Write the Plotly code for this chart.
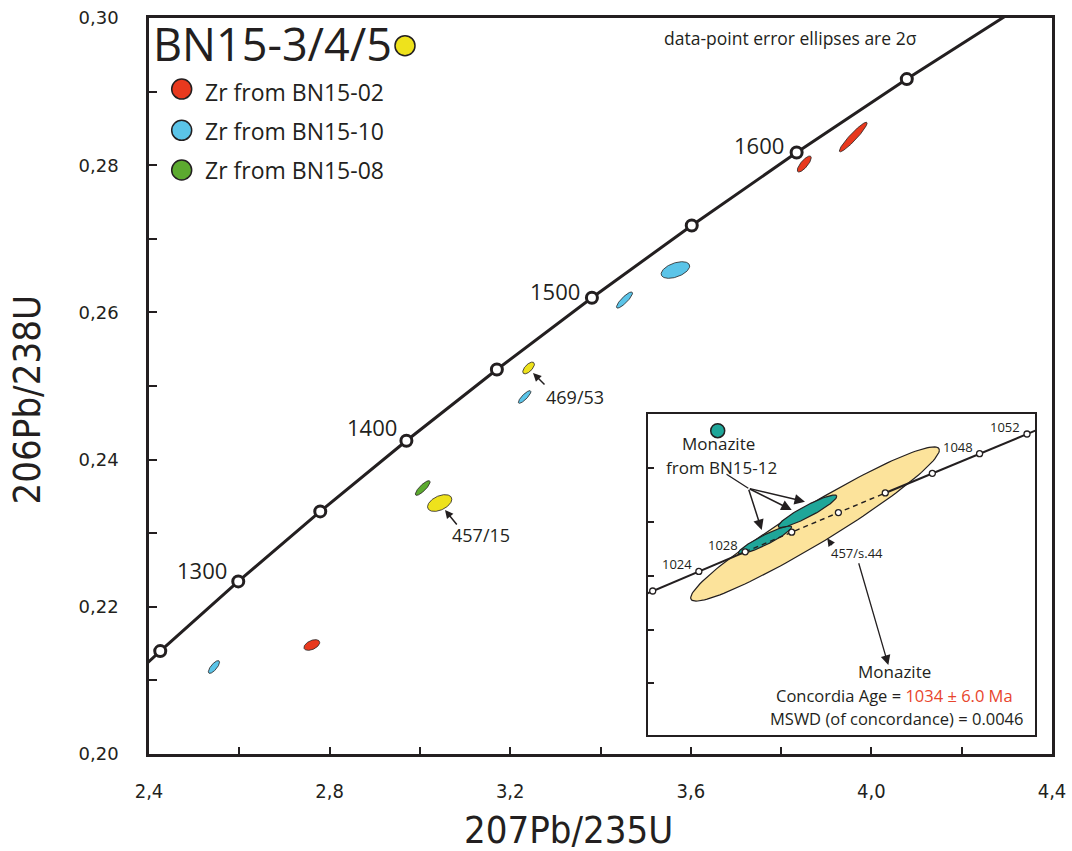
import numpy as np
import plotly.graph_objects as go

# ---------------- Concordia curve (Wetherill), ages in Ma ----------------
CONC_AGE = [1200, 1250, 1300, 1350, 1400, 1450, 1500, 1550, 1600, 1650, 1700]
CONC_X = [2.2603, 2.4249, 2.5977, 2.7793, 2.9701, 3.1705, 3.3810, 3.6021, 3.8344, 4.0784, 4.3348]
CONC_Y = [0.20460, 0.21398, 0.22345, 0.23296, 0.24256, 0.25224, 0.26199, 0.27181, 0.28172, 0.29170, 0.30175]
CONC_LABELS = [1300, 1400, 1500, 1600]

# ---------------- Zircon analyses: centre, 2-sigma half extents, rho ----------------
ZR_SAMPLE = ["BN15-10", "BN15-02", "BN15-08", "BN15-3/4/5", "BN15-10",
             "BN15-3/4/5", "BN15-10", "BN15-10", "BN15-02", "BN15-02"]
ZR_X = [2.5438, 2.7606, 3.0062, 3.0438, 3.2319, 3.2407, 3.4531, 3.5659, 3.8513, 3.9597]
ZR_Y = [0.21182, 0.21481, 0.23614, 0.23410, 0.24851, 0.25245, 0.26168, 0.26576, 0.28016, 0.28383]
ZR_SX = [0.0124, 0.0175, 0.0164, 0.0269, 0.0139, 0.0129, 0.0178, 0.0316, 0.0155, 0.0308]
ZR_SY = [0.00087, 0.00073, 0.00100, 0.00114, 0.00086, 0.00080, 0.00110, 0.00113, 0.00109, 0.00201]
ZR_RHO = [0.75, 0.46, 0.83, 0.45, 0.84, 0.64, 0.86, 0.47, 0.78, 0.94]

SAMPLE_COLOR = {
    "BN15-3/4/5": "#EEE21C",
    "BN15-02": "#E8391E",
    "BN15-10": "#5BC4E8",
    "BN15-08": "#5CAA2F",
}
LEGEND_SAMPLES = ["BN15-02", "BN15-10", "BN15-08"]

# ---------------- Inset: monazite from BN15-12 ----------------
INS_AGE = [1016, 1020, 1024, 1028, 1032, 1036, 1040, 1044, 1048, 1052, 1056]
INS_X = [1.719934, 1.730669, 1.741450, 1.752269, 1.763134, 1.774040,
         1.784989, 1.795983, 1.807019, 1.818099, 1.829220]
INS_Y = [0.170706, 0.171432, 0.172159, 0.172887, 0.173615, 0.174343,
         0.175072, 0.175802, 0.176531, 0.177262, 0.177993]
INS_LABELS = [1024, 1028, 1048, 1052]
INS_DASH_FROM, INS_DASH_TO = 1028, 1040

MZ_NAME = ["Concordia age", "spot A", "spot B"]
MZ_X = [1.76858, 1.75690, 1.76683]
MZ_Y = [0.173920, 0.173326, 0.174392]
MZ_SX = [0.02904, 0.00624, 0.00684]
MZ_SY = [0.002863, 0.00052, 0.000602]
MZ_RHO = [0.957, 0.922, 0.919]
MZ_COLOR = ["#FCE39B", "#1FA699", "#1FA699"]

# ---------------- Axis ticks ----------------
X_TICKS = [2.4, 2.6, 2.8, 3.0, 3.2, 3.4, 3.6, 3.8, 4.0, 4.2, 4.4]
X_TICK_TEXT = ["2,4", "", "2,8", "", "3,2", "", "3,6", "", "4,0", "", "4,4"]
Y_TICKS = [0.20, 0.21, 0.22, 0.23, 0.24, 0.25, 0.26, 0.27, 0.28, 0.29, 0.30]
Y_TICK_TEXT = ["0,20", "", "0,22", "", "0,24", "", "0,26", "", "0,28", "", "0,30"]
INS_Y_TICKS = [0.168, 0.170, 0.172, 0.174, 0.176]

INK = "#231F20"
TXT_FONT = "Open Sans, Noto Sans, sans-serif"
NARROW_FONT = "DejaVu Sans Condensed, sans-serif"


def ellipse(cx, cy, sx, sy, rho, n=140):
    """Outline of an error ellipse from half extents and error correlation."""
    t = np.linspace(0, 2 * np.pi, n)
    x = cx + sx * np.cos(t)
    y = cy + sy * (rho * np.cos(t) + np.sqrt(1 - rho ** 2) * np.sin(t))
    return x, y


fig = go.Figure()

# main concordia line
fig.add_trace(go.Scatter(x=CONC_X, y=CONC_Y, mode="lines",
                         line=dict(color=INK, width=3), hoverinfo="skip",
                         showlegend=False, xaxis="x", yaxis="y"))

# zircon ellipses
for cx, cy, sx, sy, r, s in zip(ZR_X, ZR_Y, ZR_SX, ZR_SY, ZR_RHO, ZR_SAMPLE):
    ex, ey = ellipse(cx, cy, sx, sy, r)
    fig.add_trace(go.Scatter(x=ex, y=ey, mode="lines", fill="toself",
                             fillcolor=SAMPLE_COLOR[s],
                             line=dict(color=INK, width=0.8),
                             hoverinfo="skip", showlegend=False,
                             xaxis="x", yaxis="y"))

# concordia age markers inside the plot range
mk = [(a, x, y) for a, x, y in zip(CONC_AGE, CONC_X, CONC_Y)
      if 2.4 <= x <= 4.4 and 0.2 <= y <= 0.3]
fig.add_trace(go.Scatter(x=[m[1] for m in mk], y=[m[2] for m in mk],
                         mode="markers",
                         marker=dict(size=11, color="white",
                                     line=dict(color=INK, width=3)),
                         hoverinfo="skip", showlegend=False,
                         xaxis="x", yaxis="y"))

# ---------------- inset traces ----------------
for cx, cy, sx, sy, r, c in zip(MZ_X, MZ_Y, MZ_SX, MZ_SY, MZ_RHO, MZ_COLOR):
    ex, ey = ellipse(cx, cy, sx, sy, r)
    fig.add_trace(go.Scatter(x=ex, y=ey, mode="lines", fill="toself",
                             fillcolor=c, line=dict(color=INK, width=1.2),
                             hoverinfo="skip", showlegend=False,
                             xaxis="x2", yaxis="y2"))

i0 = INS_AGE.index(INS_DASH_FROM)
i1 = INS_AGE.index(INS_DASH_TO)
for a, b, dash, w in [(0, i0 + 1, "solid", 2), (i0, i1 + 1, "5px,4px", 1.4),
                      (i1, len(INS_AGE), "solid", 2)]:
    fig.add_trace(go.Scatter(x=INS_X[a:b], y=INS_Y[a:b], mode="lines",
                             line=dict(color=INK, width=w, dash=dash),
                             hoverinfo="skip", showlegend=False,
                             xaxis="x2", yaxis="y2"))
fig.add_trace(go.Scatter(x=INS_X, y=INS_Y, mode="markers",
                         marker=dict(size=6, color="white",
                                     line=dict(color=INK, width=1.3)),
                         hoverinfo="skip", showlegend=False,
                         xaxis="x2", yaxis="y2"))

# ---------------- annotations ----------------
ann = []

# concordia age labels
shifts = {1300: (-9, 11), 1400: (-7, 14), 1500: (-10, 7), 1600: (-11, 8)}
for age in CONC_LABELS:
    k = CONC_AGE.index(age)
    dx, dy = shifts[age]
    ann.append(dict(x=CONC_X[k], y=CONC_Y[k], xref="x", yref="y",
                    text=str(age), showarrow=False, xanchor="right",
                    yanchor="middle", xshift=dx, yshift=dy,
                    font=dict(family=TXT_FONT, size=22, color=INK)))

for age in INS_LABELS:
    k = INS_AGE.index(age)
    ann.append(dict(x=INS_X[k], y=INS_Y[k], xref="x2", yref="y2",
                    text=str(age), showarrow=False, xanchor="right",
                    yanchor="middle", xshift=-5, yshift=7,
                    font=dict(family=TXT_FONT, size=13, color=INK)))


def paper_text(xp, yp, text, size, anchor="center", color=INK, family=TXT_FONT, angle=0):
    ann.append(dict(x=xp, y=yp, xref="paper", yref="paper", text=text,
                    showarrow=False, xanchor=anchor, yanchor="middle",
                    textangle=angle,
                    font=dict(family=family, size=size, color=color)))


def arrow(x, y, ax, ay, xr, yr, head=2, width=1.5, size=1.1):
    ann.append(dict(x=x, y=y, ax=ax, ay=ay, xref=xr, yref=yr, axref=xr,
                    ayref=yr, text="", showarrow=True, arrowhead=head,
                    arrowsize=size, arrowwidth=width, arrowcolor=INK))


# title block and legend
paper_text(0.0022, 0.9647, "BN15-3/4/5", 45, "left")
for i, s in enumerate(LEGEND_SAMPLES):
    paper_text(0.0598, [0.8988, 0.8465, 0.7928][i], "Zr from " + s, 23, "left")
paper_text(0.7099, 0.9735, "data-point error ellipses are 2σ", 17.5)

# main-plot pointers
arrow(3.05559, 0.233152, 3.08439, 0.230978, "x", "y")
paper_text(0.3677, 0.2976, "457/15", 18)
arrow(3.25050, 0.251766, 3.27929, 0.25000, "x", "y")
paper_text(0.4718, 0.4851, "469/53", 18)

# inset texts and pointers
paper_text(0.6312, 0.4222, "Monazite", 17)
paper_text(0.6335, 0.3895, "from BN15-12", 17)
arrow(1.75300, 0.175246, 1.74756, 0.175803, "x2", "y2", head=0, width=1.3)
arrow(1.76624, 0.174748, 1.75300, 0.175246, "x2", "y2", size=1.4)
arrow(1.76314, 0.174440, 1.75300, 0.175246, "x2", "y2", size=1.4)
arrow(1.75613, 0.173697, 1.75300, 0.175246, "x2", "y2", size=1.4)
arrow(1.77145, 0.173389, 1.77278, 0.173077, "x2", "y2", width=1.2, size=1.3)
paper_text(0.7843, 0.2727, "457/s.44", 13)
arrow(1.78570, 0.168684, 1.77869, 0.172520, "x2", "y2", width=1.3, size=1.5)
paper_text(0.8261, 0.1118, "Monazite", 17)
paper_text(0.8256, 0.0791,
           "Concordia Age = <span style='color:#E8452C'>1034 ± 6.0 Ma</span>", 16.5)
paper_text(0.8276, 0.0476, "MSWD (of concordance) = 0.0046", 16.5)

# axis titles
paper_text(0.4651, -0.1033, "207Pb/235U", 38, family=NARROW_FONT)
paper_text(-0.1346, 0.4810, "206Pb/238U", 38, family=NARROW_FONT, angle=-90)

# legend dots
shapes = []


def dot(xp, yp, r, color):
    shapes.append(dict(type="circle", xref="paper", yref="paper",
                       xsizemode="pixel", ysizemode="pixel",
                       xanchor=xp, yanchor=yp, x0=-r, x1=r, y0=-r, y1=r,
                       fillcolor=color, line=dict(color=INK, width=1.5),
                       layer="above"))


dot(0.2835, 0.9624, 10, SAMPLE_COLOR["BN15-3/4/5"])
for i, s in enumerate(LEGEND_SAMPLES):
    dot(0.0362, [0.9035, 0.8474, 0.7935][i], 10, SAMPLE_COLOR[s])
dot(0.6298, 0.4393, 7, "#1FA699")

fig.update_layout(
    width=1072, height=851,
    margin=dict(l=149, r=20, t=18, b=97, autoexpand=False),
    paper_bgcolor="white", plot_bgcolor="white",
    showlegend=False,
    annotations=ann, shapes=shapes,
    xaxis=dict(domain=[0, 1], range=[2.4, 4.4], showgrid=False, zeroline=False,
               automargin=False,
               showline=True, linecolor=INK, linewidth=2.5, mirror=True,
               ticks="inside", ticklen=7, tickwidth=2, tickcolor=INK,
               tickvals=X_TICKS, ticktext=X_TICK_TEXT, ticklabelstandoff=17,
               tickfont=dict(family=NARROW_FONT, size=20, color=INK)),
    yaxis=dict(domain=[0, 1], range=[0.20, 0.30], showgrid=False, zeroline=False,
               automargin=False,
               showline=True, linecolor=INK, linewidth=2.5, mirror=True,
               ticks="inside", ticklen=8, tickwidth=2, tickcolor=INK,
               tickvals=Y_TICKS, ticktext=Y_TICK_TEXT, ticklabelstandoff=24,
               tickfont=dict(family="DejaVu Sans, Verdana, sans-serif", size=18, color=INK)),
    xaxis2=dict(domain=[0.5526, 0.9812], anchor="y2", range=[1.72957, 1.81997],
                automargin=False,
                showgrid=False, zeroline=False, showline=True, linecolor=INK,
                linewidth=2, mirror=True, ticks="", showticklabels=False),
    yaxis2=dict(domain=[0.0258, 0.4620], anchor="x2", range=[0.166085, 0.178005],
                automargin=False,
                showgrid=False, zeroline=False, showline=True, linecolor=INK,
                linewidth=2, mirror=True, ticks="inside", ticklen=6, tickwidth=1.5,
                tickcolor=INK, tickvals=INS_Y_TICKS, showticklabels=False),
)

fig.write_html("out.html")
